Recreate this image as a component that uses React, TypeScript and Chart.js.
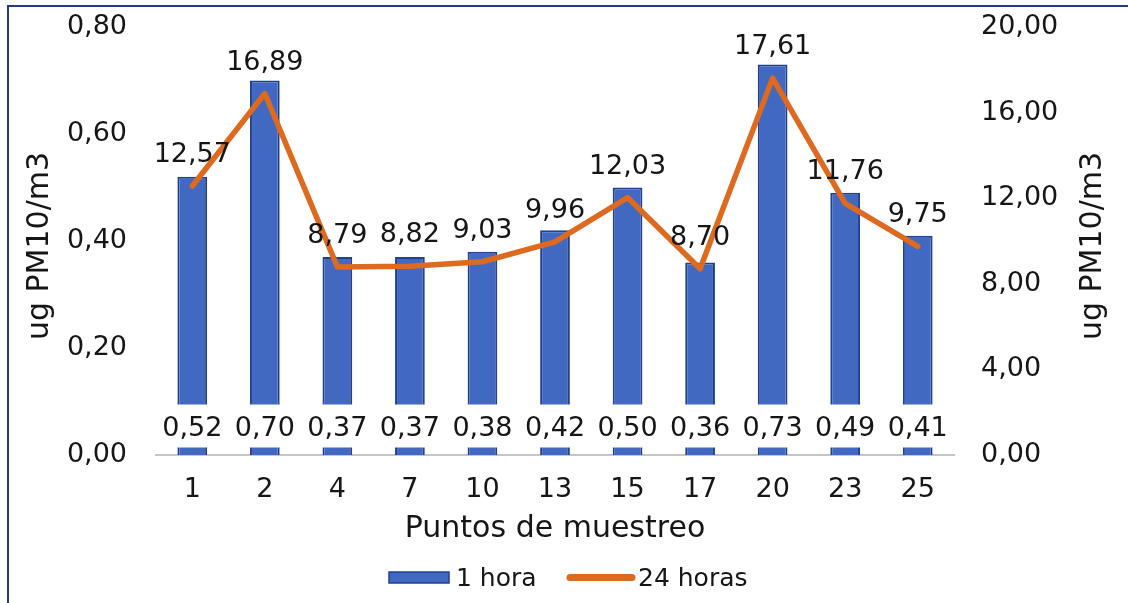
import React, { useEffect, useRef } from 'react';
import { Chart, registerables } from 'chart.js';

Chart.register(...registerables);

const categories = ['1', '2', '4', '7', '10', '13', '15', '17', '20', '23', '25'];
const oneHour = [0.52, 0.7, 0.37, 0.37, 0.38, 0.42, 0.5, 0.36, 0.73, 0.49, 0.41];
const twentyFourHours = [12.57, 16.89, 8.79, 8.82, 9.03, 9.96, 12.03, 8.7, 17.61, 11.76, 9.75];
const seriesNames = ['1 hora', '24 horas'];
const leftAxis = { min: 0, max: 0.8, step: 0.2 };
const rightAxis = { min: 0, max: 20, step: 4 };
const xTitle = 'Puntos de muestreo';
const yTitle = 'ug PM10/m3';

const FONT = '"DejaVu Sans", "Liberation Sans", sans-serif';
const TEXT = '#161616';
const BAR_FILL = '#4169c1';
const BAR_BORDER = '#21408f';
const LINE_COLOR = '#de6a1f';

const fmt = (v: number) => Number(v).toFixed(2).replace('.', ',');

const labelsPlugin = {
  id: 'customLabels',
  afterDatasetsDraw(chart: any) {
    const ctx = chart.ctx;
    ctx.save();
    ctx.font = `27px ${FONT}`;
    ctx.textAlign = 'center';
    ctx.textBaseline = 'alphabetic';
    const base = chart.scales.y.getPixelForValue(0);
    const barMeta = chart.getDatasetMeta(0);
    barMeta.data.forEach((el: any, i: number) => {
      const text = fmt(chart.data.datasets[0].data[i]);
      const w = ctx.measureText(text).width;
      ctx.fillStyle = '#ffffff';
      ctx.fillRect(el.x - w / 2 - 4, base - 50.5, w + 8, 43);
      ctx.fillStyle = TEXT;
      ctx.fillText(text, el.x, base - 19);
    });
    const lineMeta = chart.getDatasetMeta(1);
    lineMeta.data.forEach((pt: any, i: number) => {
      const text = fmt(chart.data.datasets[1].data[i]);
      ctx.fillStyle = TEXT;
      ctx.fillText(text, pt.x, pt.y - 24);
    });
    ctx.restore();
  },
  afterDraw(chart: any) {
    const ctx = chart.ctx;
    const { top, bottom, left, right } = chart.chartArea;
    ctx.save();
    ctx.fillStyle = TEXT;
    ctx.font = `30px ${FONT}`;
    ctx.textAlign = 'center';
    ctx.textBaseline = 'middle';
    const cy = (top + bottom) / 2 + 5;
    // left title
    ctx.save();
    ctx.translate(40, cy);
    ctx.rotate(-Math.PI / 2);
    ctx.fillText(yTitle, 0, 0);
    ctx.restore();
    // right title
    ctx.save();
    ctx.translate(1093, cy);
    ctx.rotate(-Math.PI / 2);
    ctx.fillText(yTitle, 0, 0);
    ctx.restore();
    // x title
    ctx.fillText(xTitle, (left + right) / 2, 529);

    // legend
    const ds = chart.data.datasets;
    ctx.font = `25px ${FONT}`;
    ctx.textAlign = 'left';
    ctx.textBaseline = 'alphabetic';
    ctx.fillStyle = ds[0].backgroundColor;
    ctx.fillRect(389, 572, 60, 11);
    ctx.strokeStyle = ds[0].borderColor;
    ctx.lineWidth = 1.5;
    ctx.strokeRect(389, 572, 60, 11);
    ctx.fillStyle = TEXT;
    ctx.fillText(ds[0].label, 456, 586);
    ctx.strokeStyle = ds[1].borderColor;
    ctx.lineWidth = 7;
    ctx.lineCap = 'round';
    ctx.beginPath();
    ctx.moveTo(570, 577.5);
    ctx.lineTo(632, 577.5);
    ctx.stroke();
    ctx.fillText(ds[1].label, 638, 586);
    ctx.restore();
  },
};

export default function App() {
  const canvasRef = useRef<HTMLCanvasElement | null>(null);

  useEffect(() => {
    const canvas = canvasRef.current;
    if (!canvas) return;
    const tickFont = { family: FONT, size: 27 };
    const chart = new Chart(canvas, {
      type: 'bar',
      data: {
        labels: categories,
        datasets: [
          {
            type: 'bar',
            label: seriesNames[0],
            data: oneHour,
            backgroundColor: BAR_FILL,
            borderColor: BAR_BORDER,
            borderWidth: 2,
            yAxisID: 'y',
            categoryPercentage: 1,
            barPercentage: 0.41,
            order: 2,
          } as any,
          {
            type: 'line',
            label: seriesNames[1],
            data: twentyFourHours,
            borderColor: LINE_COLOR,
            backgroundColor: LINE_COLOR,
            borderWidth: 5.5,
            pointRadius: 0,
            pointHoverRadius: 0,
            tension: 0,
            borderJoinStyle: 'round',
            borderCapStyle: 'round',
            yAxisID: 'y1',
            order: 1,
          } as any,
        ],
      },
      options: {
        animation: false,
        responsive: true,
        maintainAspectRatio: false,
        layout: { padding: { top: 27, bottom: 48, left: 0, right: 0 } },
        plugins: {
          legend: { display: false },
          tooltip: { enabled: false },
          title: { display: false },
        },
        scales: {
          x: {
            grid: { display: false },
            border: { display: true, color: '#c6c6c6', width: 2 },
            ticks: { font: tickFont, color: TEXT, padding: 11, maxRotation: 0, autoSkip: false },
            afterFit: (s: any) => {
              s.height = 100;
              s.paddingLeft = 0;
              s.paddingRight = 0;
            },
          },
          y: {
            position: 'left',
            min: leftAxis.min,
            max: leftAxis.max,
            grid: { display: false },
            border: { display: false },
            ticks: { stepSize: leftAxis.step, font: tickFont, color: TEXT, padding: 21, callback: (v: any) => fmt(v) },
            afterFit: (s: any) => {
              s.width = 156;
              s.paddingTop = 0;
              s.paddingBottom = 0;
            },
          },
          y1: {
            position: 'right',
            min: rightAxis.min,
            max: rightAxis.max,
            grid: { display: false },
            border: { display: false },
            ticks: { stepSize: rightAxis.step, font: tickFont, color: TEXT, padding: 19, callback: (v: any) => fmt(v) },
            afterFit: (s: any) => {
              s.width = 174;
              s.paddingTop = 0;
              s.paddingBottom = 0;
            },
          },
        },
      } as any,
      plugins: [labelsPlugin],
    });
    return () => chart.destroy();
  }, []);

  return (
    <>
      <div
        style={{
          position: 'fixed',
          left: 0,
          top: 0,
          width: 1128,
          height: 603,
          background: '#ffffff',
        }}
      >
        <canvas ref={canvasRef} />
      </div>
      <div
        style={{
          position: 'fixed',
          left: 7,
          top: 5,
          width: 2000,
          height: 2000,
          borderTop: '2px solid #1f3d86',
          borderLeft: '2px solid #1f3d86',
          pointerEvents: 'none',
        }}
      />
    </>
  );
}
